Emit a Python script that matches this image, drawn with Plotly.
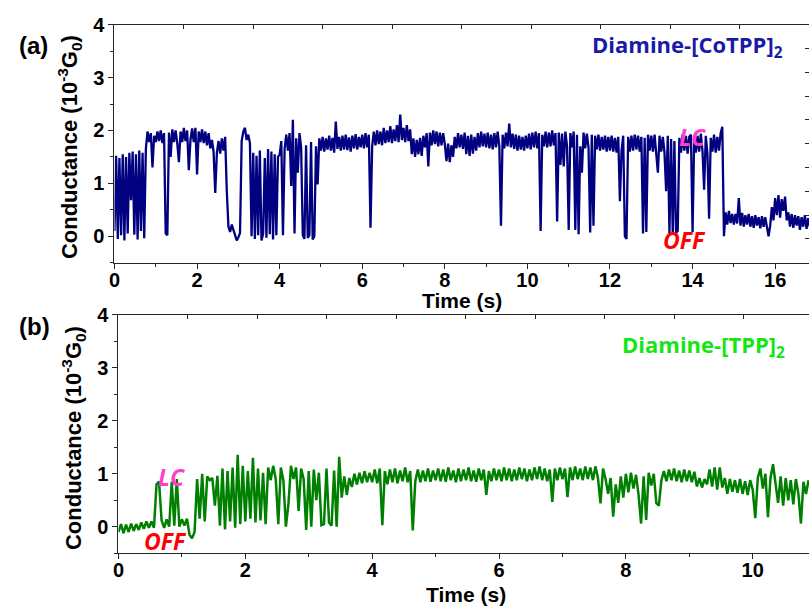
import plotly.graph_objects as go

W, H = 809, 607
DT = 0.04  # sampling interval of the recorded traces (s)
Y_STRETCH = 1.015  # vertical layout stretch, anchored at the page bottom

# Diamine-[CoTPP]2 single-molecule conductance trace (10^-3 G0), one row per second
cotpp_rows = [
    [0.10, 1.52, -0.05, 1.48, 0.02, 1.55, -0.08, 1.50, 0.05, 1.58, 0.68, 1.60, 0.03, 1.55, -0.06,
     1.62, 0.10, 1.58, -0.04, 1.65, 1.98, 1.78, 1.95, 1.30, 1.90],
    [1.78, 1.98, 1.80, 2.00, 1.76, 1.95, 0.05, 0.02, 1.96, 1.50, 2.02, 1.78, 2.00, 1.76, 1.40,
     1.98, 1.78, 2.05, 1.80, 2.00, 1.25, 1.82, 2.04, 1.78, 2.05],
    [1.17, 1.98, 1.78, 2.02, 1.76, 1.98, 1.72, 1.95, 1.66, 1.82, 1.60, 0.82, 1.58, 1.80, 1.56,
     1.85, 1.62, 1.88, 0.85, 0.18, 0.08, 0.22, 0.12, 0.02, -0.08],
    [-0.02, 0.06, 1.80, 1.98, 2.05, 1.82, 1.92, 1.76, 0.00, 1.58, -0.05, 1.52, 0.02, 1.62, -0.08,
     0.05, 1.48, -0.03, 1.65, 0.04, 1.60, -0.06, 1.55, 0.02, 1.50],
    [1.55, 1.80, 0.02, 1.65, 1.92, 1.62, 1.95, 0.95, 2.20, 0.05, 1.85, 1.20, 1.95, 1.68, 0.02,
     -0.05, 1.72, -0.03, 0.02, 1.78, -0.06, 0.00, 1.70, 0.98, 1.85],
    [1.62, 1.88, 1.60, 1.85, 1.64, 1.90, 1.62, 1.86, 1.58, 2.17, 1.65, 1.88, 1.62, 1.90, 1.64,
     1.92, 1.63, 1.87, 1.60, 1.90, 1.66, 1.93, 1.64, 1.88, 1.68],
    [1.92, 1.66, 1.95, 1.68, 1.92, 0.16, 1.70, 1.98, 1.72, 2.00, 1.74, 1.98, 1.72, 2.05, 1.76,
     2.00, 1.78, 2.08, 1.76, 2.02, 1.80, 2.10, 1.78, 2.30, 1.82],
    [2.05, 1.78, 2.10, 1.80, 2.02, 1.55, 1.85, 1.50, 1.82, 1.55, 1.86, 1.52, 1.90, 1.68, 1.95,
     1.32, 1.96, 1.72, 2.00, 1.74, 1.98, 1.70, 1.96, 1.72, 1.95],
    [1.74, 1.42, 1.75, 1.40, 1.72, 1.50, 1.88, 1.66, 1.95, 1.68, 1.92, 1.65, 1.96, 1.55, 1.90,
     1.52, 1.92, 1.56, 1.88, 1.62, 1.95, 1.68, 1.98, 1.70, 1.94],
    [1.68, 1.96, 1.66, 1.92, 1.64, 1.95, 1.68, 1.98, 1.70, 0.20, 1.92, 1.66, 1.96, 1.70, 2.13,
     1.68, 1.94, 1.65, 1.92, 1.62, 1.90, 1.64, 1.88, 1.62, 1.90],
    [1.66, 1.94, 1.64, 1.96, 1.68, 1.98, 1.66, 1.95, 0.10, 1.92, 1.70, 1.98, 1.68, 1.96, 1.70,
     2.00, 1.72, 1.95, 0.28, 1.96, 1.35, 1.94, 1.32, 1.98, 1.70],
    [0.12, 1.95, 1.68, 1.98, 0.12, 1.92, 0.04, 1.70, 1.20, 1.96, 1.66, 1.94, 1.68, 0.07, 1.92,
     0.20, 1.90, 1.64, 1.92, 1.62, 1.88, 1.64, 1.90, 1.60, 1.88],
    [1.62, 1.90, 1.60, 1.86, 1.58, 1.88, 0.66, 1.62, 1.90, 0.00, -0.05, 1.88, 1.60, 1.90, 1.62,
     1.92, 1.64, 1.90, 1.60, 1.88, 0.05, 1.86, 0.08, 1.92, 1.62],
    [1.90, 1.60, 1.92, 1.62, 1.20, 1.90, 1.60, 1.88, 1.58, 0.85, 1.90, 0.05, 1.84, 0.03, 1.80,
     0.06, 0.10, 1.86, 1.58, 1.92, 1.62, 1.90, 1.56, 1.88, 1.92],
    [0.08, 1.88, 1.58, 1.90, 1.60, 1.94, 1.62, 0.88, 1.90, 1.56, 0.33, 1.86, 1.60, 1.92, 1.58,
     1.88, 1.62, 1.95, 2.07, 0.00, 0.45, 0.22, 0.48, 0.25, 0.42],
    [0.22, 0.42, 0.24, 0.72, 0.20, 0.44, 0.18, 0.40, 0.22, 0.42, 0.18, 0.38, 0.16, 0.40, 0.20,
     0.36, 0.15, 0.38, 0.18, 0.36, 0.16, 0.00, 0.20, 0.55, 0.30],
    [0.72, 0.40, 0.78, 0.35, 0.70, 0.48, 0.75, 0.30, 0.45, 0.18, 0.42, 0.16, 0.40, 0.20, 0.38,
     0.12, 0.36, 0.18, 0.40, 0.14, 0.34, 0.18],
]

# Diamine-[TPP]2 conductance trace (10^-3 G0), one row per second
tpp_rows = [
    [-0.10, 0.05, -0.12, 0.04, -0.10, 0.06, -0.08, 0.05, -0.06, 0.08, -0.04, 0.10, -0.02, 0.10, -0.02,
     0.80, 0.85, 0.12, -0.02, 0.14, 0.00, 0.85, 0.02, 0.90, 0.00],
    [0.14, 0.02, 0.15, -0.15, -0.22, -0.10, 0.90, 0.15, 1.00, 0.10, 0.95, 0.88, 0.92, 0.40, 0.96,
     0.02, 1.10, -0.05, 1.05, 0.10, 1.12, -0.02, 1.36, 0.05, 1.15],
    [0.10, 1.05, 0.15, 1.30, 0.08, 1.10, 0.12, 1.02, 0.05, 1.12, 0.88, 1.15, 0.90, 0.05, 1.12,
     0.88, 0.00, 0.43, 1.15, 0.90, 1.12, 0.30, 1.10, 0.90, -0.06],
    [1.05, 0.00, 1.08, 0.50, 1.02, 0.03, 0.05, 1.10, 0.08, 0.02, 1.06, 0.00, 1.32, 0.55, 0.95,
     0.60, 0.92, 0.75, 1.00, 0.80, 1.02, 0.82, 1.05, 0.84, 1.02],
    [0.84, 1.08, 0.82, 1.10, 0.03, 1.05, 0.80, 1.08, 0.84, 1.10, 0.82, 1.06, 0.86, 1.12, 0.84,
     1.05, -0.07, 0.86, 1.08, 0.84, 1.06, 0.86, 1.10, 0.85, 1.06],
    [0.88, 1.10, 0.86, 1.08, 0.85, 1.12, 0.88, 1.06, 0.84, 1.10, 0.86, 1.08, 0.88, 1.12, 0.86,
     1.06, 0.85, 1.10, 0.88, 1.08, 0.60, 1.05, 0.86, 1.10, 0.88],
    [1.08, 0.86, 1.12, 0.88, 1.10, 0.86, 1.08, 0.88, 1.12, 0.90, 1.10, 0.86, 1.08, 0.88, 1.12,
     0.90, 1.14, 0.88, 1.10, 0.86, 1.08, 0.47, 1.10, 0.88, 1.12],
    [0.90, 1.10, 0.56, 1.12, 0.88, 1.14, 0.90, 1.10, 0.88, 1.14, 0.90, 1.12, 0.88, 1.14, 0.92,
     0.44, 1.10, 0.90, 0.62, 0.92, 0.19, 0.80, 0.45, 0.95, 0.55],
    [1.00, 0.65, 1.02, 0.72, 0.98, 0.60, 0.06, 0.95, 0.13, 1.02, 0.78, 1.00, 0.45, 0.40, 0.88,
     1.05, 0.86, 1.08, 0.88, 1.10, 0.86, 1.06, 0.84, 1.08, 0.86],
    [1.06, 0.84, 1.04, 0.76, 0.92, 0.74, 0.90, 0.80, 1.08, 0.76, 1.12, 0.70, 1.12, 0.74, 0.92,
     0.62, 0.90, 0.66, 0.88, 0.64, 0.90, 0.62, 0.86, 0.60, 0.88],
    [0.70, 0.16, 0.92, 1.10, 0.72, 1.00, 0.18, 0.92, 1.18, 0.80, 0.45, 0.95, 0.40, 0.92, 0.50,
     0.88, 0.42, 0.90, 0.62, 0.06, 0.85, 0.62, 0.88],
]

g_cotpp = [v for row in cotpp_rows for v in row]
g_tpp = [v for row in tpp_rows for v in row]
t_cotpp = [round(i * DT, 2) for i in range(len(g_cotpp))]
t_tpp = [round(i * DT, 2) for i in range(len(g_tpp))]

x_ticks_a = [0, 2, 4, 6, 8, 10, 12, 14, 16]
x_ticks_b = [0, 2, 4, 6, 8, 10]
y_ticks = [0, 1, 2, 3, 4]

NAVY = "#000080"
GREEN = "#008000"
AXIS = "#262626"
FONT = "Liberation Sans, Arial, sans-serif"
LABEL_FONT = "Open Sans, sans-serif"


def px(x):
    return x / W


def py(y):
    # paper fraction (from the bottom) of a pixel row measured from the top
    return min(1.0, (H - y) * Y_STRETCH / H)


fig = go.Figure()
fig.add_trace(go.Scatter(x=t_cotpp, y=g_cotpp, mode="lines", xaxis="x", yaxis="y",
                         line=dict(color=NAVY, width=2.3), showlegend=False, hoverinfo="skip"))
fig.add_trace(go.Scatter(x=t_tpp, y=g_tpp, mode="lines", xaxis="x2", yaxis="y2",
                         line=dict(color=GREEN, width=2.5), showlegend=False, hoverinfo="skip"))
# empty traces that bind the frame-tick axes
fig.add_trace(go.Scatter(x=[], y=[], xaxis="x3", yaxis="y3", showlegend=False, hoverinfo="skip"))
fig.add_trace(go.Scatter(x=[], y=[], xaxis="x4", yaxis="y4", showlegend=False, hoverinfo="skip"))

tickfont = dict(family=FONT, size=20, color="black", weight="bold")

dom_a_x = [px(109.3), 1.0]
dom_a_y = [py(261.5), py(22.7)]
dom_b_x = [px(113.3), 1.0]
dom_b_y = [py(553.0), py(314.0)]


def xaxis(domain, rng, ticks, anchor):
    return dict(domain=domain, range=rng, anchor=anchor, tickvals=ticks,
                ticks="outside", ticklen=5, tickwidth=1.2, tickcolor=AXIS,
                ticklabelstandoff=-6,
                minor=dict(dtick=1, tick0=0, ticks="outside", ticklen=3, tickwidth=1.2, tickcolor=AXIS),
                showline=True, linecolor=AXIS, linewidth=1.2, mirror=True,
                showgrid=False, zeroline=False, tickfont=tickfont)


def yaxis(domain, anchor):
    return dict(domain=domain, range=[-0.5, 4], anchor=anchor, tickvals=y_ticks,
                ticks="outside", ticklen=5, tickwidth=1.2, tickcolor=AXIS,
                minor=dict(dtick=0.5, tick0=0, ticks="outside", ticklen=3, tickwidth=1.2, tickcolor=AXIS),
                showline=True, linecolor=AXIS, linewidth=1.2,
                showgrid=False, zeroline=False, tickfont=tickfont)


def frame_x(over, anchor, rng):
    return dict(overlaying=over, anchor=anchor, side="top", range=rng, dtick=1, tick0=0,
                ticks="inside", ticklen=4, tickwidth=1.1, tickcolor=AXIS,
                showticklabels=False, showgrid=False, zeroline=False, showline=False)


def frame_y(over, anchor, rng, ticks="inside"):
    return dict(overlaying=over, anchor=anchor, side="right", range=rng, dtick=1, tick0=0,
                ticks=ticks, ticklen=4, tickwidth=1.1, tickcolor=AXIS,
                showticklabels=False, showgrid=False, zeroline=False, showline=False)


x_max_a = (W - 109.3) / 41.6
x_max_b = (W - 113.3) / 63.9

fig.update_layout(
    width=W, height=H, margin=dict(l=0, r=0, t=0, b=0),
    paper_bgcolor="white", plot_bgcolor="white",
    xaxis=xaxis(dom_a_x, [0, x_max_a], x_ticks_a, "y"),
    yaxis=yaxis(dom_a_y, "x"),
    xaxis2=xaxis(dom_b_x, [0, x_max_b], x_ticks_b, "y2"),
    yaxis2=yaxis(dom_b_y, "x2"),
    xaxis3=frame_x("x", "y3", [0, 10.0]),
    yaxis3=frame_y("y", "x3", [0, 10.0]),
    xaxis4=frame_x("x2", "y4", [0, (W - 113.3) / 70.0]),
    yaxis4=frame_y("y2", "x4", [0, 10.0], ticks=""),
)

title_font = dict(family=FONT, size=21, color="black", weight="bold")
ylab_font = dict(family=FONT, size=22, color="black", weight="bold")
panel_font = dict(family=FONT, size=24, color="black", weight="bold")

ann = [
    dict(x=px(459), y=py(299), text="Time (s)", font=title_font),
    dict(x=px(463), y=py(594), text="Time (s)", font=title_font),
    dict(x=px(64), y=py(146), text="Conductance (10<sup>-3</sup>G<sub>0</sub>)", textangle=-90, font=ylab_font),
    dict(x=px(68), y=py(437), text="Conductance (10<sup>-3</sup>G<sub>0</sub>)", textangle=-90, font=ylab_font),
    dict(x=px(28), y=py(44), text="(a)", font=panel_font),
    dict(x=px(29), y=py(326), text="(b)", font=panel_font),
    dict(x=px(687), y=py(44), text="Diamine-[CoTPP]<sub>2</sub>",
         font=dict(family=LABEL_FONT, size=22, color="#1a1aa6", weight="bold")),
    dict(x=px(703), y=py(345), text="Diamine-[TPP]<sub>2</sub>",
         font=dict(family=LABEL_FONT, size=22, color="#14e614", weight="bold")),
    dict(x=px(692), y=py(135), text="<i>LC</i>",
         font=dict(family=LABEL_FONT, size=23, color="#ff3fc8", weight="bold")),
    dict(x=px(684), y=py(239), text="<i>OFF</i>",
         font=dict(family=LABEL_FONT, size=23, color="#ff0000", weight="bold")),
    dict(x=px(167), y=py(477), text="<i>LC</i>",
         font=dict(family=LABEL_FONT, size=23, color="#ff3fc8", weight="bold")),
    dict(x=px(161), y=py(541), text="<i>OFF</i>",
         font=dict(family=LABEL_FONT, size=23, color="#ff0000", weight="bold")),
]
for a in ann:
    a.update(xref="paper", yref="paper", showarrow=False, xanchor="center", yanchor="middle")
fig.update_layout(annotations=ann)

fig.write_html("out.html")
